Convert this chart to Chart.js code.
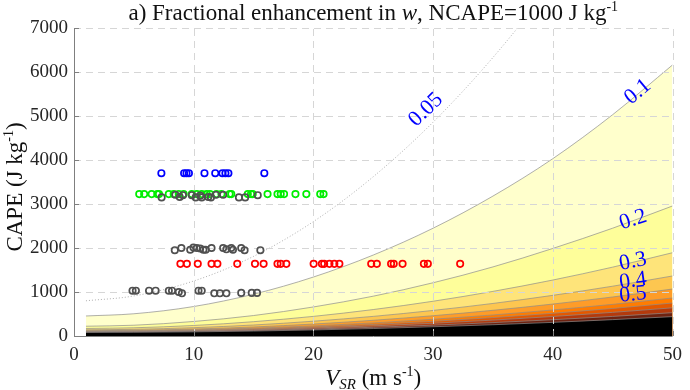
<!DOCTYPE html>
<html>
<head>
<meta charset="utf-8">
<script src="https://cdn.jsdelivr.net/npm/chart.js@4.4.1/dist/chart.umd.min.js"></script>
<style>
  html, body { margin: 0; padding: 0; background: #fff; }
  #wrap { width: 690px; height: 390px; }
</style>
</head>
<body>
<div id="wrap"><canvas id="enhChart"></canvas></div>
<script>
// storm-relative wind grid (m/s) used for the contour curves
var vsrGrid = [1, 5, 10, 15, 20, 25, 30, 35, 40, 45, 50];

// CAPE (J/kg) along each contour of fractional enhancement
var c005 = [800, 910, 1250, 1810, 2600, 3620, 4860, 6330, 8030, 9950, 12100];
var c01 = [455, 505, 670, 950, 1340, 1840, 2450, 3180, 4030, 5030, 6160];
var c02 = [222, 245, 330, 465, 660, 905, 1210, 1570, 1990, 2450, 2955];
var c03 = [171, 187, 239, 325, 446, 601, 790, 1014, 1272, 1565, 1893];
var c04 = [140, 152, 189, 250, 336, 446, 581, 740, 924, 1132, 1364];
var c05 = [120, 129, 158, 205, 272, 357, 461, 584, 726, 887, 1068];
var c06 = [108, 116, 138, 176, 229, 297, 380, 478, 591, 719, 864];
var c07 = [100, 106, 126, 158, 204, 262, 334, 418, 516, 626, 750];
var c08 = [93, 98, 115, 142, 181, 230, 290, 361, 443, 537, 640];
var c09 = [87, 91, 105, 127, 158, 198, 246, 304, 370, 445, 530];
var c10 = [80, 84, 94, 112, 138, 170, 210, 256, 310, 372, 440];

// observed soundings
var blueV = [7.3, 9.2, 9.4, 9.6, 10.9, 11.8, 12.4, 12.65, 12.9, 15.9];
var blueCape = [3700, 3700, 3700, 3700, 3700, 3700, 3700, 3700, 3700, 3700];

var greenV = [5.45, 5.86, 6.49, 6.96, 7.1, 7.92, 8.33, 8.75, 9.16, 9.84, 10.26, 10.67, 11.08, 11.36, 11.9,
  12.32, 13.0, 13.14, 14.52, 14.79, 14.93, 16.17, 17.0, 17.27, 17.55, 18.5, 19.41, 20.57, 20.85];
var greenCape = [3225, 3225, 3225, 3225, 3225, 3225, 3225, 3225, 3225, 3225, 3225, 3225, 3225, 3225, 3225,
  3225, 3225, 3225, 3225, 3225, 3225, 3225, 3225, 3225, 3225, 3225, 3225, 3225, 3225];

var grayHiV = [7.32, 8.47, 8.83, 9.1, 9.84, 10.17, 10.54, 10.67, 11.22, 11.44, 11.86, 12.46, 13.78, 14.3, 15.35];
var grayHiCape = [3150, 3210, 3160, 3200, 3200, 3150, 3190, 3150, 3160, 3150, 3210, 3210, 3150, 3150, 3200];

var grayMidV = [8.42, 8.97, 9.71, 9.98, 10.26, 10.54, 10.81, 11.0, 11.49, 12.46, 12.73, 13.14, 13.28, 13.97, 14.25, 15.57];
var grayMidCape = [1950, 2000, 1960, 2010, 2000, 1990, 1960, 1960, 2000, 2000, 1970, 2000, 1960, 2000, 1950, 1950];

var redV = [8.89, 9.43, 10.34, 11.49, 11.98, 13.64, 15.12, 15.84, 17.0, 17.27, 17.74, 20.02, 20.71, 20.9,
  21.34, 21.75, 22.17, 24.83, 25.3, 26.49, 26.71, 27.45, 29.23, 29.56, 32.26];
var redCape = [1640, 1640, 1640, 1640, 1640, 1640, 1640, 1640, 1640, 1640, 1640, 1640, 1640, 1640,
  1640, 1640, 1640, 1640, 1640, 1640, 1640, 1640, 1640, 1640, 1640];

var grayLoV = [4.89, 5.17, 6.27, 6.82, 7.92, 8.19, 8.75, 9.02, 10.4, 10.67, 11.72, 12.19, 12.73, 13.97, 14.85, 15.29];
var grayLoCape = [1030, 1030, 1030, 1030, 1030, 1030, 1000, 970, 1030, 1030, 970, 970, 970, 980, 980, 980];

// contour labels: text, V, CAPE, rotation (deg)
var labelText = ["0.05", "0.1", "0.2", "0.3", "0.4", "0.5"];
var labelV = [29.4, 47.1, 46.7, 46.7, 46.7, 46.7];
var labelCape = [5140, 5550, 2640, 1690, 1250, 940];
var labelRot = [-44, -40, -18, -11, -8, -6];

var serif = "Liberation Serif";
Chart.defaults.font.family = serif;

function pts(xs, ys) {
  var out = [];
  for (var i = 0; i < xs.length; i++) out.push({ x: xs[i], y: ys[i] });
  return out;
}

function contour(vals, fillColor, order, dashed) {
  return {
    data: pts(vsrGrid, vals),
    borderColor: "#8c8c8c",
    borderWidth: 0.7,
    borderDash: dashed ? [1, 2] : [],
    backgroundColor: fillColor,
    fill: fillColor ? "origin" : false,
    pointRadius: 0,
    cubicInterpolationMode: "monotone",
    order: order
  };
}

function marks(xs, ys, color, order) {
  return {
    data: pts(xs, ys),
    showLine: false,
    pointRadius: 3.2,
    pointBorderWidth: 1.7,
    pointBorderColor: color,
    pointBackgroundColor: "rgba(0,0,0,0)",
    order: order
  };
}

// text made of pieces (italic, sub/superscripts)
function drawPieces(ctx, pieces, cx, y) {
  var total = 0;
  pieces.forEach(function (p) { ctx.font = p.f; total += ctx.measureText(p.t).width; });
  var x = cx - total / 2;
  pieces.forEach(function (p) {
    ctx.font = p.f;
    ctx.fillText(p.t, x, y + (p.dy || 0));
    x += ctx.measureText(p.t).width;
  });
}

var extras = {
  id: "extras",
  // dashed grid over the filled contours, under the sounding markers
  afterDatasetDraw: function (chart, args) {
    if (args.index !== 10) return;
    var ctx = chart.ctx;
    var xs = chart.scales.x, ys = chart.scales.y;
    var area = chart.chartArea;
    ctx.save();
    ctx.strokeStyle = "#d6d6d6";
    ctx.lineWidth = 1;
    ctx.setLineDash([7, 5]);
    ctx.beginPath();
    ys.ticks.forEach(function (t) {
      if (t.value === 0) return;
      var py = Math.round(ys.getPixelForValue(t.value)) + 0.5;
      ctx.moveTo(area.left, py); ctx.lineTo(area.right, py);
    });
    xs.ticks.forEach(function (t) {
      if (t.value === 0) return;
      var px = Math.round(xs.getPixelForValue(t.value)) + 0.5;
      ctx.moveTo(px, area.bottom); ctx.lineTo(px, area.top);
    });
    ctx.stroke();
    ctx.restore();
  },
  afterDraw: function (chart) {
    var ctx = chart.ctx;
    var xs = chart.scales.x, ys = chart.scales.y;
    var area = chart.chartArea;
    ctx.save();
    // solid left/bottom axes and inward tick marks
    ctx.strokeStyle = "#7f7f7f";
    ctx.lineWidth = 1;
    ctx.beginPath();
    ctx.moveTo(area.left + 0.5, area.top);
    ctx.lineTo(area.left + 0.5, area.bottom + 0.5);
    ctx.lineTo(area.right, area.bottom + 0.5);
    ys.ticks.forEach(function (t) {
      var py = Math.round(ys.getPixelForValue(t.value)) + 0.5;
      ctx.moveTo(area.left, py); ctx.lineTo(area.left + 5, py);
    });
    xs.ticks.forEach(function (t) {
      var px = Math.round(xs.getPixelForValue(t.value)) + 0.5;
      ctx.moveTo(px, area.bottom); ctx.lineTo(px, area.bottom - 5);
    });
    ctx.stroke();

    // contour labels
    ctx.fillStyle = "#0000ff";
    ctx.font = "22px " + serif;
    ctx.textAlign = "center";
    ctx.textBaseline = "middle";
    for (var i = 0; i < labelText.length; i++) {
      ctx.save();
      ctx.translate(xs.getPixelForValue(labelV[i]), ys.getPixelForValue(labelCape[i]));
      ctx.rotate(labelRot[i] * Math.PI / 180);
      ctx.fillText(labelText[i], 0, 0);
      ctx.restore();
    }

    // title and axis titles
    ctx.fillStyle = "#111";
    ctx.textAlign = "left";
    ctx.textBaseline = "alphabetic";
    var big = "23px " + serif, bigI = "italic 23px " + serif, small = "14px " + serif, smallI = "italic 15px " + serif;
    drawPieces(ctx, [
      { t: "a) Fractional enhancement in ", f: big },
      { t: "w", f: bigI },
      { t: ", NCAPE=1000 J kg", f: big },
      { t: "-1", f: small, dy: -9 }
    ], (area.left + area.right) / 2, 20);
    drawPieces(ctx, [
      { t: "V", f: bigI },
      { t: "SR", f: smallI, dy: 4 },
      { t: " (m s", f: big },
      { t: "-1", f: small, dy: -9 },
      { t: ")", f: big }
    ], (area.left + area.right) / 2, 385);
    ctx.save();
    ctx.translate(22, 187);
    ctx.rotate(-Math.PI / 2);
    drawPieces(ctx, [
      { t: "CAPE (J kg", f: big },
      { t: "-1", f: small, dy: -9 },
      { t: ")", f: big }
    ], 0, 0);
    ctx.restore();
    ctx.restore();
  }
};

function plainTick(v) { return String(v); }

var chart = new Chart(document.getElementById("enhChart").getContext("2d"), {
  type: "line",
  data: {
    datasets: [
      contour(c005, null, 100, true),
      contour(c01, "#ffffcc", 99),
      contour(c02, "#fefe9a", 98),
      contour(c03, "#fee47a", 97),
      contour(c04, "#fdc650", 96),
      contour(c05, "#fe9c28", 95),
      contour(c06, "#ff7c00", 94),
      contour(c07, "#e35800", 93),
      contour(c08, "#b43a0c", 92),
      contour(c09, "#6e2210", 91),
      contour(c10, "#000000", 90),
      marks(redV, redCape, "#ff0000", 4),
      marks(blueV, blueCape, "#0000ff", 3),
      marks(greenV, greenCape, "#00ee00", 2),
      marks(grayHiV, grayHiCape, "#505050", 1),
      marks(grayMidV, grayMidCape, "#505050", 1),
      marks(grayLoV, grayLoCape, "#505050", 1)
    ]
  },
  options: {
    responsive: true,
    maintainAspectRatio: false,
    animation: false,
    layout: { padding: { top: 28, right: 10, left: 0, bottom: 0 } },
    plugins: {
      legend: { display: false },
      tooltip: { enabled: false },
      title: { display: false }
    },
    scales: {
      x: {
        type: "linear",
        min: 0,
        max: 50,
        ticks: { stepSize: 10, padding: 8, color: "#262626", font: { family: serif, size: 19 }, callback: plainTick },
        grid: { display: false, drawTicks: false },
        border: { display: false },
        afterFit: function (s) { s.height = 54; }
      },
      y: {
        min: 0,
        max: 7000,
        ticks: { stepSize: 1000, padding: 6, color: "#262626", font: { family: serif, size: 19 }, callback: plainTick },
        grid: { display: false, drawTicks: false },
        border: { display: false },
        afterFit: function (s) { s.width = 74; }
      }
    }
  },
  plugins: [extras]
});
</script>
</body>
</html>
